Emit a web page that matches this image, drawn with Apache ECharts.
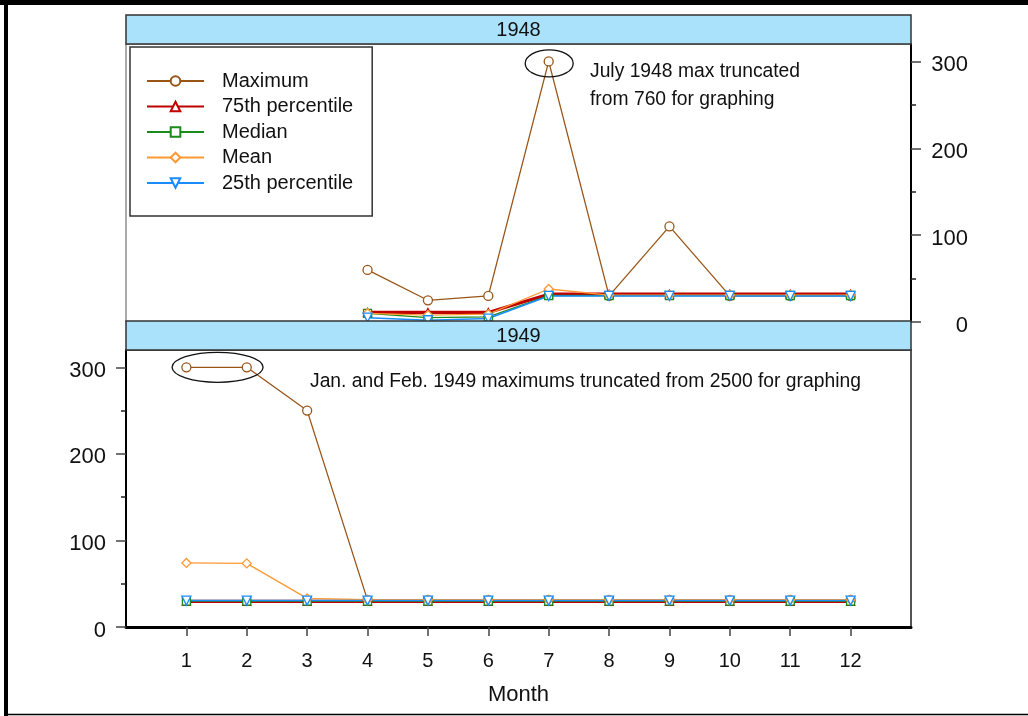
<!DOCTYPE html>
<html>
<head>
<meta charset="utf-8">
<title>Monthly statistics 1948-1949</title>
<script src="https://cdn.jsdelivr.net/npm/echarts@6/dist/echarts.min.js"></script>
<style>
  html, body { margin: 0; padding: 0; background: #fff; }
  #main { width: 1028px; height: 716px; }
</style>
</head>
<body>
<div id="main"></div>
<script>
// month numbers on the x axis
const months = [1, 2, 3, 4, 5, 6, 7, 8, 9, 10, 11, 12];
const yTicks = [0, 100, 200, 300];
const yMinorTicks = [50, 150, 250];

// 1948 (no data Jan-Mar)
const max1948 = [null, null, null, 60, 25, 30, 300, 30, 110, 30, 30, 30];
const p75_1948 = [null, null, null, 11, 11, 11, 32, 32, 32, 32, 32, 32];
const median1948 = [null, null, null, 10, 5, 6, 30.5, 30.5, 30.5, 30.5, 30.5, 30.5];
const mean1948 = [null, null, null, 10, 8, 9, 38, 31, 31, 31, 31, 31];
const p25_1948 = [null, null, null, 5, 2, 4, 30, 30, 30, 30, 30, 30];

// 1949
const max1949 = [300, 300, 250, 31, 31, 31, 31, 31, 31, 31, 31, 31];
const p75_1949 = [29.5, 29.5, 29.5, 29.5, 29.5, 29.5, 29.5, 29.5, 29.5, 29.5, 29.5, 29.5];
const median1949 = [30, 30, 30, 30, 30, 30, 30, 30, 30, 30, 30, 30];
const mean1949 = [74, 73.5, 33, 31.5, 31.5, 31.5, 31.5, 31.5, 31.5, 31.5, 31.5, 31.5];
const p25_1949 = [30.5, 30.5, 30.5, 30.5, 30.5, 30.5, 30.5, 30.5, 30.5, 30.5, 30.5, 30.5];

const FONT = "'Liberation Sans', Arial, sans-serif";

// series look: name, colour, symbol, size, line width
const styles = [
  { name: 'Maximum', color: '#9a5516', symbol: 'circle', size: 9, width: 1.3 },
  { name: '75th percentile', color: '#c00000', symbol: 'triangle', size: 8, width: 3.2 },
  { name: 'Median', color: '#1b8a1b', symbol: 'rect', size: 8, width: 1.3 },
  { name: 'Mean', color: '#ff9933', symbol: 'diamond', size: 9, width: 1.3 },
  { name: '25th percentile', color: '#1a8cff', symbol: 'triangle', size: 9, width: 1.5, rotate: 180 }
];

function pairs(values) {
  return months.map((m, i) => [m, values[i]]);
}

function makeSeries(st, values, idx) {
  return {
    name: st.name,
    type: 'line',
    xAxisIndex: idx,
    yAxisIndex: idx,
    data: pairs(values),
    symbol: st.symbol,
    symbolSize: st.size,
    symbolRotate: st.rotate || 0,
    showAllSymbol: true,
    lineStyle: { color: st.color, width: st.width },
    itemStyle: { color: '#fff', borderColor: st.color, borderWidth: 1.3 },
    emphasis: { disabled: true },
    animation: false
  };
}

const data1948 = [max1948, p75_1948, median1948, mean1948, p25_1948];
const data1949 = [max1949, p75_1949, median1949, mean1949, p25_1949];

const series = [];
styles.forEach((st, i) => series.push(makeSeries(st, data1948[i], 0)));
styles.forEach((st, i) => series.push(makeSeries(st, data1949[i], 1)));

function yAxisMajor(grid, pos, margin) {
  return {
    type: 'value', gridIndex: grid, position: pos, min: 0, max: 320,
    axisLine: { show: true, onZero: false, lineStyle: { color: '#000', width: 2 } },
    axisTick: { show: true, customValues: yTicks, length: 10, lineStyle: { color: '#444', width: 1.5 } },
    axisLabel: {
      customValues: yTicks, align: 'right', margin: margin,
      formatter: v => '{v|' + v + '}',
      rich: { v: { fontSize: 22, color: '#111', fontFamily: FONT, padding: [7, 0, 0, 0] } }
    },
    splitLine: { show: false }
  };
}

function yAxisMinor(grid, pos) {
  return {
    type: 'value', gridIndex: grid, position: pos, min: 0, max: 320,
    axisLine: { show: false, onZero: false },
    axisTick: { show: true, customValues: yMinorTicks, length: 5, lineStyle: { color: '#222', width: 1.5 } },
    axisLabel: { show: false },
    splitLine: { show: false }
  };
}

const chart = echarts.init(document.getElementById('main'));

chart.setOption({
  backgroundColor: '#fff',
  animation: false,
  legend: {
    data: styles.map(s => s.name),
    orient: 'vertical',
    left: 130,
    top: 47,
    padding: [24, 19, 23, 16],
    itemWidth: 57,
    itemHeight: 12,
    itemGap: 5.5,
    selectedMode: false,
    backgroundColor: '#fff',
    borderColor: '#333',
    borderWidth: 1.5,
    textStyle: { fontSize: 20, color: '#111', fontFamily: FONT, padding: [0, 0, 0, 13] }
  },
  grid: [
    { left: 126, top: 44, width: 785, height: 278, show: true, borderColor: '#555', borderWidth: 1, backgroundColor: 'transparent' },
    { left: 126, top: 350, width: 785, height: 277, show: true, borderColor: '#555', borderWidth: 2, backgroundColor: 'transparent' }
  ],
  xAxis: [
    { type: 'value', gridIndex: 0, min: 0, max: 13, show: false },
    {
      type: 'value', gridIndex: 1, min: 0, max: 13,
      name: 'Month', nameLocation: 'middle', nameGap: 57,
      nameTextStyle: { fontSize: 22, color: '#111', fontFamily: FONT },
      axisLine: { onZero: false, lineStyle: { color: '#000', width: 3 } },
      axisTick: { customValues: months, length: 9, lineStyle: { color: '#444', width: 1.5 } },
      axisLabel: { customValues: months, fontSize: 20, color: '#111', fontFamily: FONT, margin: 24 },
      splitLine: { show: false }
    }
  ],
  yAxis: [
    yAxisMajor(0, 'right', 57),
    yAxisMajor(1, 'left', 20),
    yAxisMinor(0, 'right'),
    yAxisMinor(1, 'left')
  ],
  series: series
});

// strip headers, outer frame and truncation notes
const c1948 = chart.convertToPixel({ gridIndex: 0 }, [7, 300]);
const c1949 = chart.convertToPixel({ gridIndex: 1 }, [1.5, 300]);

function strip(y, label) {
  return [
    {
      type: 'rect', shape: { x: 126, y: y, width: 785, height: 29 },
      style: { fill: '#aae1fb', stroke: '#333', lineWidth: 1.5 }, z: 10
    },
    {
      type: 'text', x: 518.5, y: y + 15,
      style: { text: label, font: '20px ' + FONT, fill: '#111', align: 'center', verticalAlign: 'middle' }, z: 11
    }
  ];
}

chart.setOption({
  graphic: [
    ...strip(15, '1948'),
    ...strip(321, '1949'),
    { type: 'line', shape: { x1: 0, y1: 2.5, x2: 1028, y2: 2.5 }, style: { stroke: '#000', lineWidth: 5 }, z: 20 },
    { type: 'line', shape: { x1: 6, y1: 0, x2: 6, y2: 716 }, style: { stroke: '#000', lineWidth: 4 }, z: 20 },
    { type: 'line', shape: { x1: 4, y1: 714.5, x2: 1028, y2: 714.5 }, style: { stroke: '#000', lineWidth: 1.5 }, z: 20 },
    {
      type: 'ellipse', shape: { cx: c1948[0] + 0.5, cy: c1948[1] + 2, rx: 24, ry: 13.5 },
      style: { fill: 'none', stroke: '#111', lineWidth: 1.3 }, z: 12
    },
    {
      type: 'ellipse', shape: { cx: c1949[0] + 1, cy: c1949[1], rx: 45.5, ry: 15 },
      style: { fill: 'none', stroke: '#111', lineWidth: 1.3 }, z: 12
    },
    {
      type: 'text', x: 590, y: 58,
      style: { text: 'July 1948 max truncated\nfrom 760 for graphing', font: '19.3px ' + FONT, lineHeight: 28, fill: '#111' }, z: 12
    },
    {
      type: 'text', x: 310, y: 368,
      style: { text: 'Jan. and Feb. 1949 maximums truncated from 2500 for graphing', font: '19.3px ' + FONT, lineHeight: 28, fill: '#111' }, z: 12
    }
  ]
});
</script>
</body>
</html>
